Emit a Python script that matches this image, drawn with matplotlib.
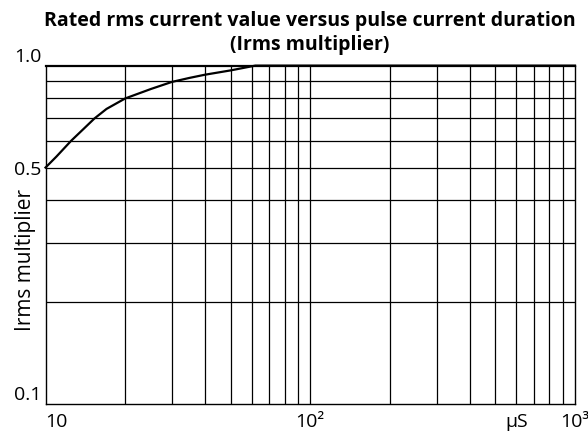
import matplotlib
matplotlib.use("Agg")
import matplotlib.pyplot as plt

plt.rcParams['font.family'] = ['Open Sans', 'DejaVu Sans']

# pulse duration (uS) vs Irms multiplier
duration = [10, 11, 12.5, 14, 15.3, 17, 20, 25, 30, 35, 40, 50, 62, 1000]
multiplier = [0.5, 0.539, 0.6, 0.653, 0.698, 0.745, 0.8, 0.853, 0.895, 0.92, 0.94, 0.968, 1.0, 1.0]

x_ticks = [10, 100, 600, 1000]
x_labels = ['10', '10²', 'μS', '10³']
y_ticks = [0.1, 0.5, 1.0]
y_labels = ['0.1', '0.5', '1.0']

x_grid = [20, 30, 40, 50, 60, 70, 80, 90, 100, 200, 300, 400, 500, 600, 700, 800, 900]
y_grid = [0.2, 0.3, 0.4, 0.5, 0.6, 0.7, 0.8, 0.9]

fig = plt.figure(figsize=(5.88, 4.32), dpi=100)
ax = fig.add_axes([0.0774, 0.0641, 0.9005, 0.784])

ax.set_xscale('log')
ax.set_yscale('log')
ax.set_xlim(10, 1000)
ax.set_ylim(0.1, 1.0)

for gx in x_grid:
    ax.axvline(gx, color='black', lw=0.9, zorder=1)
for gy in y_grid:
    ax.axhline(gy, color='black', lw=0.9, zorder=1)

ax.plot(duration, multiplier, color='black', lw=1.6, zorder=3, clip_on=False)

ax.minorticks_off()
ax.set_xticks(x_ticks)
ax.set_xticklabels(x_labels, fontsize=14)
ax.set_yticks(y_ticks)
ax.set_yticklabels(y_labels, fontsize=14)
ax.tick_params(axis='x', length=0, pad=6)
ax.tick_params(axis='y', length=0, pad=3)

xl = ax.get_xticklabels()
xl[0].set_ha('left')
yl = ax.get_yticklabels()
yl[0].set_va('bottom')
yl[2].set_va('bottom')

for s in ax.spines.values():
    s.set_linewidth(1.0)
ax.spines['top'].set_linewidth(1.6)

ax.set_ylabel('Irms multiplier', fontsize=15)
ax.yaxis.set_label_coords(-0.018, 0.425)
fig.suptitle('Rated rms current value versus pulse current duration\n(Irms multiplier)',
             fontsize=14, fontweight='bold', x=0.527, y=0.975, va='top', linespacing=1.3)

fig.savefig('out.png', dpi=100)
